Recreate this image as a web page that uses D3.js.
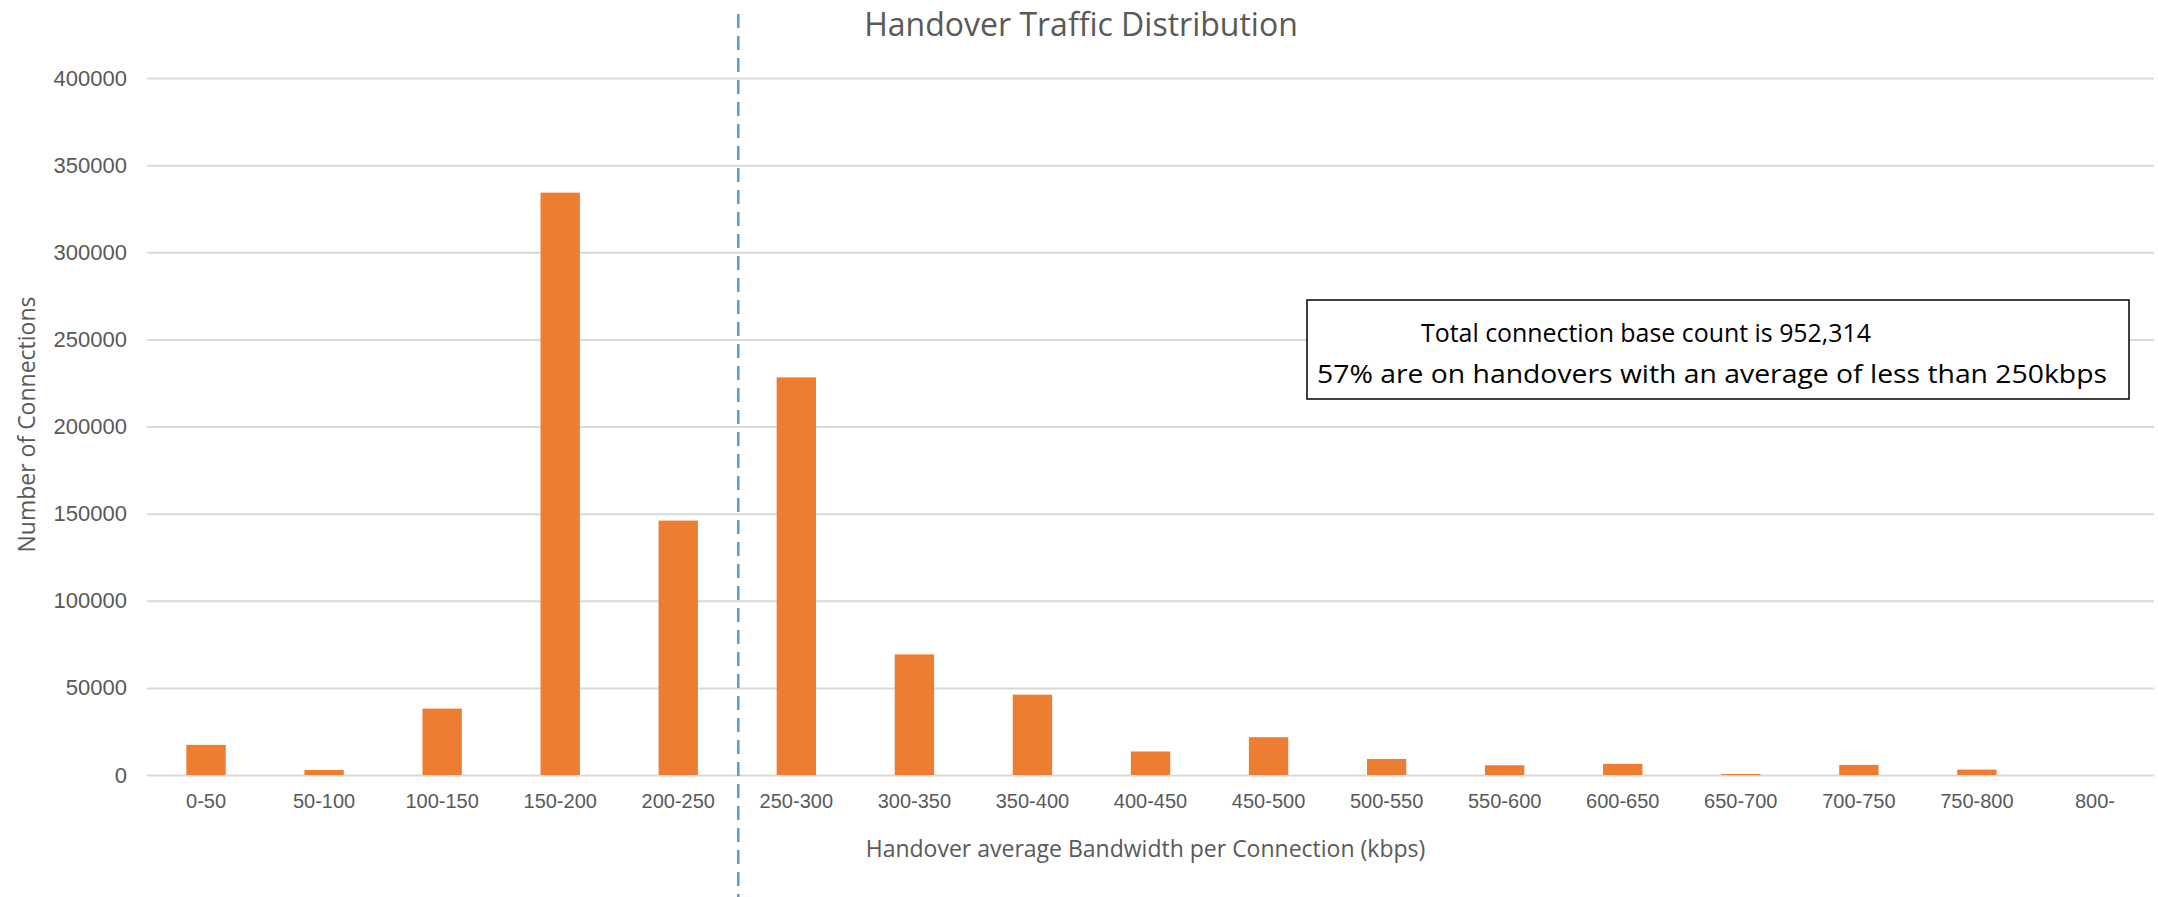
<!DOCTYPE html>
<html>
<head>
<meta charset="utf-8">
<script src="https://cdn.jsdelivr.net/npm/d3@7"></script>
<style>
  body { margin: 0; background: #fff; }
  svg { font-family: "Open Sans", "Noto Sans", sans-serif; }
  .axis path { display: none; }
  .y.axis line { stroke: #d9d9d9; stroke-width: 2; }
  .axis text { fill: #595959; font-size: 20px; }
  .y.axis text { font-size: 22px; }
</style>
</head>
<body>
<div id="graph"></div>
<script>
// data
var categories = ["0-50", "50-100", "100-150", "150-200", "200-250", "250-300",
  "300-350", "350-400", "400-450", "450-500", "500-550", "550-600", "600-650",
  "650-700", "700-750", "750-800", "800-"];
var connections = [17300, 2900, 38100, 334200, 146000, 228200, 69200, 46100,
  13500, 21700, 9200, 5600, 6400, 600, 5800, 3100, 0];
var yTicks = [0, 50000, 100000, 150000, 200000, 250000, 300000, 350000, 400000];
var noteLines = ["Total connection base count is 952,314",
  "57% are on handovers with an average of less than 250kbps"];
var splitAt = "250-300";

var W = 2158, H = 897;
var margin = { top: 78, right: 4, bottom: 122, left: 147 },
  width = W - margin.left - margin.right,
  height = H - margin.top - margin.bottom;

var svg = d3.select("#graph")
  .append("svg")
  .attr("width", W)
  .attr("height", H);

var g = svg.append("g")
  .attr("transform", "translate(" + margin.left + "," + margin.top + ")");

var x = d3.scaleBand().domain(categories).range([0, width]).padding(0);
var y = d3.scaleLinear().domain([0, 400000]).range([height, 0]);

// gridlines + y labels
g.append("g")
  .attr("class", "y axis")
  .call(d3.axisLeft(y).tickValues(yTicks).tickSize(-width).tickPadding(20)
    .tickFormat(d3.format("d")));

// x labels
g.append("g")
  .attr("class", "x axis")
  .attr("transform", "translate(0," + height + ")")
  .call(d3.axisBottom(x).tickSize(0).tickPadding(19));

// bars, 1/3 of band like excel gap width 200%
var barW = x.bandwidth() / 3;
g.selectAll(".bar")
  .data(connections)
  .enter()
  .append("rect")
  .attr("class", "bar")
  .attr("x", function(d, i) { return x(categories[i]) + barW; })
  .attr("width", barW)
  .attr("y", function(d) { return y(d); })
  .attr("height", function(d) { return height - y(d); })
  .attr("fill", "#ed7d31");

// dashed split line
svg.append("line")
  .attr("x1", margin.left + x(splitAt) + 1)
  .attr("x2", margin.left + x(splitAt) + 1)
  .attr("y1", 14)
  .attr("y2", H)
  .attr("stroke", "#5b9bd5")
  .attr("stroke-width", 2.5)
  .attr("stroke-dasharray", "14,8");

// title
svg.append("text")
  .attr("x", 1081)
  .attr("y", 36)
  .attr("text-anchor", "middle")
  .style("font-size", "32px")
  .style("fill", "#595959")
  .text("Handover Traffic Distribution");

// axis titles
svg.append("text")
  .attr("x", margin.left + width / 2 - 5)
  .attr("y", 857)
  .attr("text-anchor", "middle")
  .style("font-size", "23px")
  .style("fill", "#595959")
  .text("Handover average Bandwidth per Connection (kbps)");

svg.append("text")
  .attr("transform", "translate(35," + (margin.top + height / 2 - 2) + ") rotate(-90)")
  .attr("text-anchor", "middle")
  .style("font-size", "23px")
  .style("fill", "#595959")
  .text("Number of Connections");

// note box
var note = svg.append("g").attr("transform", "translate(1307,300)");
note.append("rect")
  .attr("width", 822)
  .attr("height", 99)
  .attr("fill", "#fff")
  .attr("stroke", "#000")
  .attr("stroke-width", 1.5);
note.append("text")
  .attr("x", 339)
  .attr("y", 42)
  .attr("text-anchor", "middle")
  .attr("textLength", 450)
  .attr("lengthAdjust", "spacingAndGlyphs")
  .style("font-size", "26px")
  .text(noteLines[0]);
note.append("text")
  .attr("x", 405)
  .attr("y", 83)
  .attr("text-anchor", "middle")
  .attr("textLength", 790)
  .attr("lengthAdjust", "spacingAndGlyphs")
  .style("font-size", "26px")
  .text(noteLines[1]);
</script>
</body>
</html>
